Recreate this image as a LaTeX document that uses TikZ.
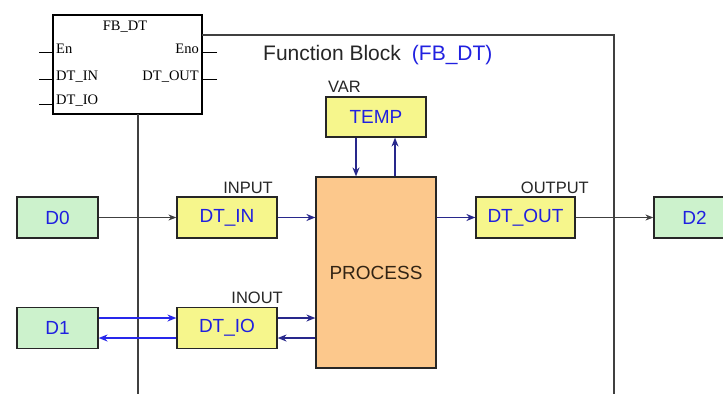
\documentclass[tikz,border=0pt]{standalone}
\usepackage{fontspec}
\setmainfont{Liberation Sans}
\newfontfamily\fbfont{Liberation Serif}
\usetikzlibrary{arrows.meta}
\definecolor{boxgreen}{RGB}{204,242,204}
\definecolor{boxyellow}{RGB}{246,246,140}
\definecolor{boxorange}{RGB}{252,200,140}
\definecolor{txtblue}{RGB}{32,32,224}
\definecolor{arrnavy}{RGB}{40,40,140}
\definecolor{arrblue}{RGB}{40,40,235}
\definecolor{linegrey}{RGB}{64,64,64}
\definecolor{proctxt}{RGB}{50,36,20}
\tikzset{
  x=1pt, y=-1pt,
  basebox/.style={draw=black!85, line width=1.2pt, inner sep=0pt, align=center,
    font=\fontsize{19}{22}\selectfont, text=txtblue},
  databox/.style={basebox, fill=boxgreen, minimum width=81pt, minimum height=41pt},
  varbox/.style={basebox, fill=boxyellow, minimum width=100pt, minimum height=41pt},
  procbox/.style={basebox, fill=boxorange, minimum width=120pt, minimum height=191pt, text=proctxt},
  lbl/.style={inner sep=0pt, font=\fontsize{16.5}{19}\selectfont, text=black!85},
  fbtxt/.style={inner sep=0pt, font=\fbfont\fontsize{14.5}{16}\selectfont, text=black},
  frameline/.style={draw=linegrey, line width=1.3pt},
  navyarr/.style={draw=arrnavy, line width=1.4pt, -{Stealth[length=9pt,width=7pt]}},
  bluearr/.style={draw=arrblue, line width=1.4pt, -{Stealth[length=9pt,width=7pt]}},
  greyarr/.style={draw=linegrey, line width=1.1pt, -{Stealth[length=8pt,width=6pt]}},
  stub/.style={draw=black, line width=0.9pt}
}
\begin{document}
\begin{tikzpicture}
\useasboundingbox (0,0) rectangle (723,394);
\clip (0,0) rectangle (723,394);
\fill[white] (0,0) rectangle (723,394);

% frame of the function block
\node[draw=black, line width=1.5pt, fill=white, minimum width=149pt, minimum height=99pt, inner sep=0pt] (FB) at (127.5,64.5) {};
\coordinate (frTL) at (202,35);
\coordinate (frTR) at (614,35);
\coordinate (frBR) at (614,394);
\coordinate (frLT) at (138,114);
\coordinate (frLB) at (138,394);
\draw[frameline] (frTL) -- (frTR) -- (frBR);
\draw[frameline] (frLT) -- (frLB);

% FB_DT block texts and pins
\node[fbtxt, anchor=base] (fbtitle) at (125,30) {FB\_DT};
\node[fbtxt, anchor=base west] (pEn) at (56,53) {En};
\node[fbtxt, anchor=base west] (pDTIN) at (56,80) {DT\_IN};
\node[fbtxt, anchor=base west] (pDTIO) at (56,104) {DT\_IO};
\node[fbtxt, anchor=base east] (pEno) at (199,53) {Eno};
\node[fbtxt, anchor=base east] (pDTOUT) at (199,80) {DT\_OUT};
\coordinate (sL1) at (39,52); \coordinate (sL2) at (39,79); \coordinate (sL3) at (39,104);
\coordinate (sR1) at (217,52); \coordinate (sR2) at (217,79);
\draw[stub] (sL1) -- (sL1 -| FB.west);
\draw[stub] (sL2) -- (sL2 -| FB.west);
\draw[stub] (sL3) -- (sL3 -| FB.west);
\draw[stub] (sR1) -- (sR1 -| FB.east);
\draw[stub] (sR2) -- (sR2 -| FB.east);

% title
\node[inner sep=0pt, anchor=base west, font=\fontsize{21}{24}\selectfont, text=black!85] (title) at (263,60)
  {Function Block\hspace{11pt}\textcolor{txtblue}{(FB\_DT)}};

% boxes
\node[databox] (D0) at (57.5,217.5) {D0};
\node[databox] (D1) at (57.5,328) {D1};
\node[databox] (D2) at (694.5,217.5) {D2};
\node[varbox] (DTIN) at (227,217.5) {DT\_IN};
\node[varbox] (DTIO) at (227,328) {DT\_IO};
\node[varbox, minimum width=99pt] (DTOUT) at (525.5,217.5) {DT\_OUT};
\node[varbox, minimum height=40pt] (TEMP) at (376,117) {TEMP};
\node[procbox] (PROC) at (376,272.5) {PROCESS};

% labels
\node[lbl, anchor=base west] (lVAR) at (328,92) {VAR};
\node[lbl, anchor=base east] (lIN) at (273,193) {INPUT};
\node[lbl, anchor=base east] (lIO) at (283,303) {INOUT};
\node[lbl, anchor=base east] (lOUT) at (589,193) {OUTPUT};

% connectors
\draw[greyarr] (D0.east) -- (DTIN.west);
\draw[navyarr] (DTIN.east) -- (DTIN.east -| PROC.west);
\draw[navyarr] (DTOUT.west -| PROC.east) -- (DTOUT.west);
\draw[greyarr] (DTOUT.east) -- (D2.west);
\draw[bluearr] ([yshift=10pt]D1.east) -- ([yshift=10pt]DTIO.west);
\draw[bluearr] ([yshift=-10pt]DTIO.west) -- ([yshift=-10pt]D1.east);
\draw[navyarr] ([yshift=10pt]DTIO.east) -- ([yshift=10pt]DTIO.east -| PROC.west);
\draw[navyarr] ([yshift=-10pt]DTIO.east -| PROC.west) -- ([yshift=-10pt]DTIO.east);
\draw[navyarr] ([xshift=-20pt]TEMP.south) -- ([xshift=-20pt]TEMP.south |- PROC.north);
\draw[navyarr] ([xshift=19pt]TEMP.south |- PROC.north) -- ([xshift=19pt]TEMP.south);
\end{tikzpicture}
\end{document}
